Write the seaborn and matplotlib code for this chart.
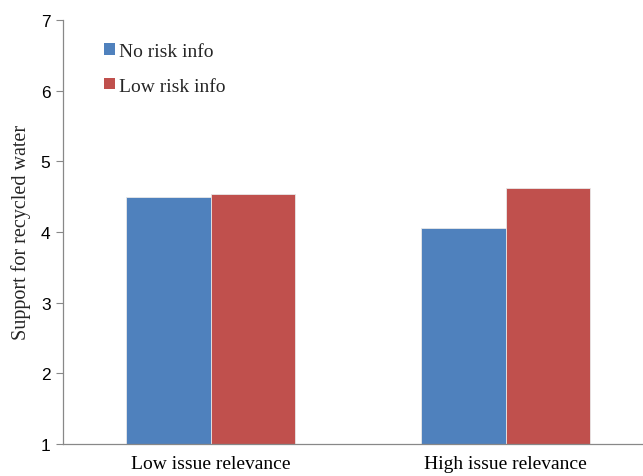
import matplotlib
matplotlib.use("Agg")
import matplotlib.pyplot as plt
import seaborn as sns
import pandas as pd

# Chart data
conditions = ["Low issue relevance", "High issue relevance"]
risk_groups = ["No risk info", "Low risk info"]
no_risk_values = [4.49, 4.05]
low_risk_values = [4.54, 4.62]
y_ticks = [1, 2, 3, 4, 5, 6, 7]

df = pd.DataFrame({
    "condition": conditions * 2,
    "group": [risk_groups[0]] * 2 + [risk_groups[1]] * 2,
    "support": no_risk_values + low_risk_values,
})

sns.set_theme(style="white")
plt.rcParams["font.family"] = ["DejaVu Sans"]

fig = plt.figure(figsize=(6.43, 4.77), dpi=100)
ax = fig.add_axes([63 / 643, 32 / 477, 580 / 643, 424.2 / 477])

palette = {risk_groups[0]: "#4F81BD", risk_groups[1]: "#C0504D"}
sns.barplot(data=df, x="condition", y="support", hue="group",
            order=conditions, hue_order=risk_groups, palette=palette,
            width=0.57, saturation=1, edgecolor="#E8E8E8", linewidth=0.6,
            ax=ax)

axis_gray = "#888888"
ax.set_ylim(1, 7)
ax.set_xlim(-0.5, 1.5 - 10 / 295)
ax.set_yticks(y_ticks)
ax.set_yticklabels([str(t) for t in y_ticks], family="Liberation Sans", fontsize=12.5)
ax.set_xticks([0, 1])
ax.set_xticklabels(conditions, family="Liberation Serif", fontsize=14)
ax.set_xticks([-0.5, 0.5], minor=True)
ax.tick_params(axis="x", which="major", length=0, pad=8, colors="black")
ax.tick_params(axis="x", which="minor", length=5, width=0.8, color=axis_gray, direction="out")
ax.tick_params(axis="y", length=5, width=0.8, color=axis_gray, direction="out", pad=4,
               labelcolor="black", left=True)

for side in ["top", "right"]:
    ax.spines[side].set_visible(False)
for side in ["left", "bottom"]:
    ax.spines[side].set_color(axis_gray)
    ax.spines[side].set_linewidth(0.9)

ax.set_xlabel("")
ax.set_ylabel("Support for recycled water", family="Liberation Serif", fontsize=14.5, labelpad=7)

leg = ax.legend(loc="upper left", bbox_to_anchor=(104 / 643, 1 - 44 / 477),
                bbox_transform=fig.transFigure, frameon=False,
                prop={"family": "Liberation Serif", "size": 14},
                handlelength=0.55, handleheight=0.55, handletextpad=0.2,
                labelspacing=0.9, borderaxespad=0, borderpad=0)
for h in leg.legend_handles:
    h.set_edgecolor("none")

fig.savefig("out.png", dpi=100)
